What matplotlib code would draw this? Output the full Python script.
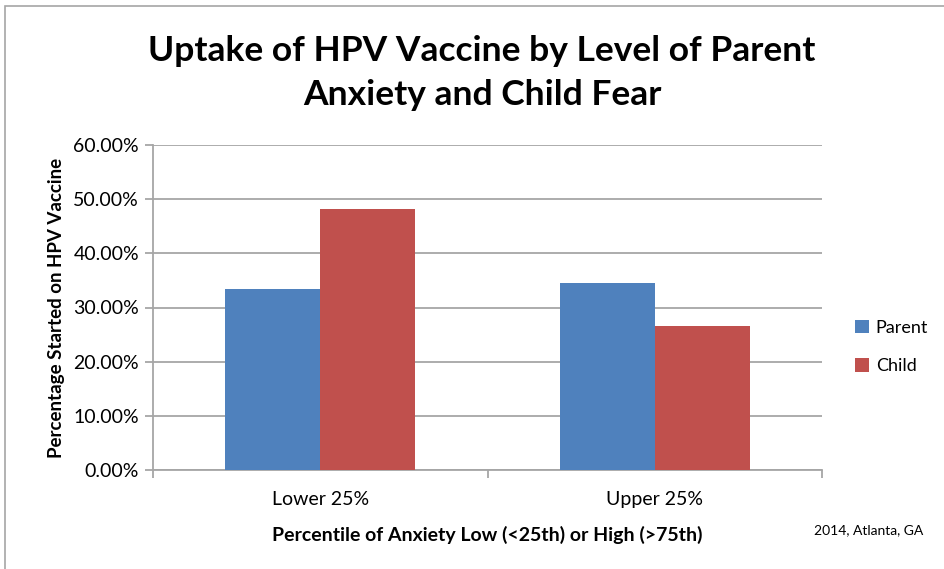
import matplotlib
matplotlib.use("Agg")
import matplotlib.pyplot as plt
from matplotlib.patches import Rectangle
from matplotlib.ticker import FuncFormatter
import numpy as np

categories = ["Lower 25%", "Upper 25%"]
series_names = ["Parent", "Child"]
parent_vals = [33.4, 34.5]
child_vals = [48.2, 26.6]
y_ticks = [0, 10, 20, 30, 40, 50, 60]

plt.rcParams['font.family'] = ['Lato', 'DejaVu Sans']

fig = plt.figure(figsize=(9.44, 5.69), dpi=100)
W, H = 944, 569
ax = fig.add_axes([153/W, 1-470/H, (822-153)/W, (470-145)/H])

x = np.arange(len(categories))
bw = 0.284
ax.bar(x - bw/2, parent_vals, bw, color="#4F81BD", label=series_names[0], zorder=3)
ax.bar(x + bw/2, child_vals, bw, color="#C0504D", label=series_names[1], zorder=3)

ax.set_xlim(-0.5, 1.5)
ax.set_ylim(0, 60)
ax.set_yticks(y_ticks)
ax.yaxis.set_major_formatter(FuncFormatter(lambda v, p: f"{v:.2f}%"))
ax.yaxis.grid(True, color="#A6A6A6", linewidth=1.3, zorder=0)
ax.set_axisbelow(True)

ax.set_xticks(x)
ax.set_xticklabels(categories, fontsize=14)
ax.tick_params(axis='x', length=0, pad=15)
ax.set_xticks([-0.5, 0.5, 1.5], minor=True)
ax.tick_params(axis='x', which='minor', length=6, color="#A6A6A6", width=1.3)
ax.tick_params(axis='y', length=6, color="#A6A6A6", width=1.3, labelsize=14, pad=4)

for s in ['top', 'right']:
    ax.spines[s].set_visible(False)
for s in ['left', 'bottom']:
    ax.spines[s].set_color("#A6A6A6")
    ax.spines[s].set_linewidth(1.3)

ax.set_ylabel("Percentage Started on HPV Vaccine", fontsize=13.5, fontweight='bold', labelpad=6)
ax.set_xlabel("Percentile of Anxiety Low (<25th) or High (>75th)", fontsize=14, fontweight='bold', labelpad=13)

fig.text(482/W, 1-73/H, "Uptake of HPV Vaccine by Level of Parent\nAnxiety and Child Fear",
         ha='center', va='center', fontsize=25.5, fontweight='bold', linespacing=1.45)
fig.text(869/W, 1-530/H, "2014, Atlanta, GA", ha='center', va='center', fontsize=10)

leg = ax.legend(loc='center left', bbox_to_anchor=(855/W, 1-347/H), bbox_transform=fig.transFigure,
                frameon=False, fontsize=13, handlelength=0.75, handleheight=0.75, handletextpad=0.4,
                labelspacing=1.25, borderpad=0, borderaxespad=0)

fig.patches.append(Rectangle((4.5/W, -0.1), 2, 1.1 - 6.5/H, transform=fig.transFigure,
                             fill=False, edgecolor="#A6A6A6", linewidth=1.2))

fig.savefig("out.png", dpi=100)
